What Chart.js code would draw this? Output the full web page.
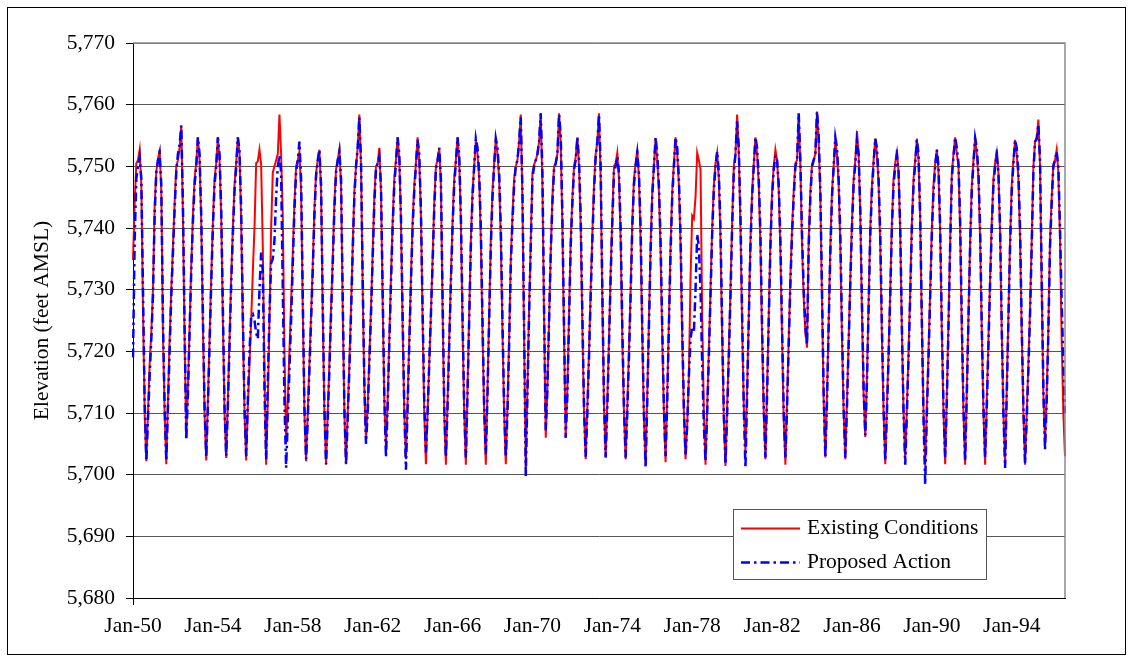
<!DOCTYPE html>
<html>
<head>
<meta charset="utf-8">
<script src="https://cdn.jsdelivr.net/npm/chart.js@4.4.1/dist/chart.umd.min.js"></script>
<style>
  html, body { margin: 0; padding: 0; background: #ffffff; }
  #wrap { width: 1133px; height: 662px; position: relative; }
  canvas { display: block; }
</style>
</head>
<body>
<div id="wrap"><canvas id="chart" width="1133" height="662"></canvas></div>
<script>
// Monthly reservoir elevations, January 1950 through September 1996 (feet AMSL)
const startYear = 1950;
const monthNames = ['Jan','Feb','Mar','Apr','May','Jun','Jul','Aug','Sep','Oct','Nov','Dec'];
const labelEvery = 48;           // one axis label every four years
const yMin = 5680, yMax = 5770, yStep = 10;
const seriesNames = ['Existing Conditions', 'Proposed Action'];

// Existing Conditions, one row per calendar year (Jan..Dec)
const existingElev = [
  5734.8,5744.0,5750.5,5751.0,5752.7,5747.0,5727.0,5710.0,5702.2,5710.0,5718.0,5723.0, // 1950
  5730.0,5743.5,5749.2,5751.0,5752.7,5746.0,5723.0,5710.0,5701.7,5712.0,5722.0,5730.0, // 1951
  5737.0,5744.0,5750.0,5751.0,5753.0,5756.6,5742.0,5722.0,5706.1,5714.0,5724.0,5734.0, // 1952
  5742.0,5748.0,5750.5,5754.7,5751.0,5741.0,5724.0,5710.0,5702.3,5712.0,5722.0,5732.0, // 1953
  5741.0,5748.0,5750.5,5754.7,5751.0,5742.0,5725.0,5710.0,5702.7,5712.0,5722.0,5732.0, // 1954
  5740.0,5747.0,5750.5,5754.7,5752.0,5741.0,5724.0,5710.0,5702.3,5711.0,5718.0,5725.0, // 1955
  5733.0,5740.0,5750.5,5750.8,5752.7,5750.3,5736.8,5716.0,5701.6,5712.0,5725.0,5740.0, // 1956
  5749.0,5750.0,5751.0,5752.0,5758.4,5752.0,5742.0,5720.0,5705.0,5712.0,5720.0,5728.0, // 1957
  5736.0,5744.0,5750.0,5751.0,5752.4,5746.0,5727.0,5710.0,5702.2,5710.0,5718.0,5726.0, // 1958
  5734.0,5743.0,5749.0,5751.0,5752.7,5746.0,5726.0,5710.0,5701.6,5710.0,5718.0,5727.0, // 1959
  5735.0,5744.0,5749.5,5751.0,5752.7,5747.0,5727.0,5710.0,5701.7,5710.0,5718.0,5727.0, // 1960
  5737.0,5746.0,5750.0,5753.0,5758.4,5750.0,5730.0,5714.0,5705.6,5711.0,5719.0,5727.0, // 1961
  5736.0,5745.0,5750.0,5750.5,5753.0,5746.0,5728.0,5712.0,5704.4,5712.0,5722.0,5732.0, // 1962
  5741.0,5748.0,5751.0,5754.7,5751.0,5741.0,5724.0,5710.0,5702.5,5712.0,5722.0,5732.0, // 1963
  5741.0,5747.0,5750.5,5754.7,5751.0,5742.0,5725.0,5710.0,5701.7,5710.0,5718.0,5726.0, // 1964
  5735.0,5744.0,5750.0,5751.0,5753.0,5747.0,5727.0,5710.0,5701.6,5712.0,5722.0,5732.0, // 1965
  5741.0,5748.0,5751.0,5754.7,5751.0,5741.0,5724.0,5710.0,5701.6,5714.0,5726.0,5738.0, // 1966
  5746.0,5750.0,5754.3,5752.0,5748.0,5738.0,5723.0,5710.0,5701.6,5714.0,5726.0,5738.0, // 1967
  5746.0,5750.5,5754.5,5752.0,5748.0,5738.0,5723.0,5710.0,5701.7,5711.0,5722.0,5735.0, // 1968
  5742.0,5748.0,5750.0,5751.0,5754.0,5758.4,5744.0,5722.0,5701.2,5714.0,5727.0,5738.0, // 1969
  5749.0,5750.3,5751.0,5752.0,5754.0,5758.6,5747.0,5725.0,5706.0,5714.0,5725.0,5736.0, // 1970
  5745.0,5750.0,5750.5,5752.0,5758.6,5754.0,5740.0,5722.0,5706.0,5714.0,5726.0,5738.0, // 1971
  5745.0,5750.0,5751.5,5754.7,5750.0,5740.0,5724.0,5710.0,5702.5,5711.0,5720.0,5730.0, // 1972
  5739.0,5747.0,5752.0,5754.0,5758.6,5748.0,5728.0,5711.0,5702.8,5712.0,5722.0,5733.0, // 1973
  5742.0,5750.0,5750.5,5752.2,5748.0,5738.0,5722.0,5710.0,5702.5,5711.0,5720.0,5730.0, // 1974
  5741.0,5748.0,5750.5,5752.7,5748.0,5738.0,5722.0,5709.0,5701.7,5713.0,5725.0,5737.0, // 1975
  5746.0,5750.0,5754.6,5751.0,5746.0,5736.0,5722.0,5710.0,5702.0,5713.0,5725.0,5737.0, // 1976
  5746.0,5750.5,5754.7,5752.0,5747.0,5737.0,5722.0,5710.0,5702.5,5708.0,5716.0,5732.0, // 1977
  5742.0,5741.5,5745.0,5752.2,5751.0,5749.5,5726.0,5710.0,5701.6,5711.0,5720.0,5730.0, // 1978
  5740.0,5747.0,5750.5,5752.2,5748.0,5738.0,5722.0,5709.0,5701.4,5711.0,5720.0,5730.0, // 1979
  5741.0,5750.0,5752.0,5758.4,5752.0,5740.0,5724.0,5711.0,5703.6,5714.0,5726.0,5738.0, // 1980
  5746.0,5750.5,5754.7,5752.0,5747.0,5737.0,5722.0,5710.0,5702.5,5714.0,5726.0,5738.0, // 1981
  5746.0,5750.0,5752.7,5751.0,5746.0,5736.0,5722.0,5709.0,5701.6,5712.0,5722.0,5732.0, // 1982
  5740.0,5746.0,5750.5,5751.0,5758.6,5750.0,5737.0,5728.6,5723.0,5720.6,5738.0,5746.0, // 1983
  5750.3,5751.0,5752.0,5758.9,5754.0,5745.0,5728.0,5712.0,5702.8,5713.0,5725.0,5737.0, // 1984
  5746.0,5750.0,5754.0,5752.0,5747.0,5737.0,5722.0,5710.0,5702.5,5712.0,5722.0,5732.0, // 1985
  5741.0,5748.0,5751.0,5755.7,5752.0,5742.0,5726.0,5713.0,5706.1,5716.0,5728.0,5740.0, // 1986
  5747.0,5751.0,5754.5,5752.0,5747.0,5737.0,5722.0,5710.0,5701.7,5711.0,5720.0,5730.0, // 1987
  5741.0,5748.0,5750.5,5752.7,5749.0,5739.0,5723.0,5710.0,5702.5,5711.0,5720.0,5730.0, // 1988
  5741.0,5748.0,5751.0,5754.5,5751.0,5741.0,5724.0,5710.0,5701.4,5711.0,5720.0,5730.0, // 1989
  5740.0,5747.0,5750.5,5752.7,5749.0,5739.0,5723.0,5710.0,5701.7,5713.0,5725.0,5738.0, // 1990
  5749.0,5752.0,5754.7,5752.0,5750.0,5739.5,5723.0,5710.0,5701.6,5714.0,5726.0,5738.0, // 1991
  5747.0,5751.0,5754.6,5752.0,5748.0,5738.0,5723.0,5710.0,5701.6,5712.0,5722.0,5732.0, // 1992
  5741.0,5748.0,5750.5,5752.7,5749.0,5739.0,5723.0,5710.0,5701.7,5714.0,5726.0,5738.0, // 1993
  5747.0,5751.0,5754.3,5752.0,5748.0,5738.0,5723.0,5710.0,5701.6,5710.0,5718.0,5727.0, // 1994
  5738.0,5750.0,5754.0,5754.5,5757.6,5750.0,5730.0,5713.0,5705.0,5713.0,5724.0,5738.0, // 1995
  5745.0,5750.3,5751.0,5752.7,5749.0,5738.0,5722.0,5710.0,5703.0                         // 1996
];

// Proposed Action, same months
const proposedElev = [
  5719.0,5738.0,5748.0,5750.0,5751.5,5748.0,5730.0,5712.0,5702.2,5709.0,5716.0,5722.0, // 1950
  5729.0,5742.0,5749.0,5751.0,5752.2,5747.0,5725.0,5711.0,5702.2,5711.0,5720.0,5729.0, // 1951
  5736.0,5743.0,5749.0,5752.0,5753.5,5756.6,5744.0,5724.0,5705.6,5713.0,5723.0,5733.0, // 1952
  5741.0,5747.0,5750.0,5754.7,5752.0,5742.0,5726.0,5711.0,5702.8,5711.0,5721.0,5731.0, // 1953
  5740.0,5747.0,5750.0,5754.7,5752.0,5743.0,5727.0,5711.0,5703.0,5711.0,5721.0,5731.0, // 1954
  5739.0,5746.0,5750.0,5754.7,5752.5,5743.0,5726.0,5711.0,5703.0,5712.0,5720.0,5725.6, // 1955
  5726.0,5725.0,5723.0,5722.0,5730.0,5736.0,5733.0,5714.0,5702.5,5715.0,5726.0,5734.3, // 1956
  5735.0,5738.0,5745.0,5750.0,5751.8,5749.0,5730.0,5712.0,5701.1,5709.0,5717.0,5725.0, // 1957
  5734.0,5743.0,5749.0,5751.0,5754.0,5748.0,5729.0,5711.0,5702.5,5709.0,5717.0,5725.0, // 1958
  5733.0,5742.0,5748.5,5751.0,5752.7,5747.0,5728.0,5711.0,5701.7,5709.0,5717.0,5726.0, // 1959
  5734.0,5743.0,5749.0,5751.0,5752.4,5748.0,5729.0,5711.0,5701.7,5709.0,5717.0,5726.0, // 1960
  5736.0,5745.0,5750.0,5753.0,5758.0,5751.0,5732.0,5715.0,5705.0,5710.0,5718.0,5726.0, // 1961
  5735.0,5744.0,5749.5,5750.5,5751.6,5747.0,5730.0,5713.0,5702.8,5711.0,5721.0,5731.0, // 1962
  5740.0,5747.0,5750.5,5754.7,5752.0,5742.0,5726.0,5711.0,5700.8,5711.0,5721.0,5731.0, // 1963
  5740.0,5746.0,5750.0,5754.3,5752.0,5743.0,5727.0,5712.0,5703.6,5710.0,5718.0,5726.0, // 1964
  5734.0,5743.0,5749.5,5751.0,5753.0,5748.0,5729.0,5711.0,5702.8,5711.0,5721.0,5731.0, // 1965
  5740.0,5747.0,5750.5,5754.7,5752.0,5742.0,5726.0,5711.0,5702.8,5713.0,5725.0,5737.0, // 1966
  5745.0,5750.0,5754.5,5753.0,5749.0,5740.0,5725.0,5711.0,5703.3,5713.0,5725.0,5737.0, // 1967
  5745.0,5750.0,5754.5,5753.0,5749.0,5740.0,5725.0,5711.0,5702.8,5710.0,5721.0,5734.0, // 1968
  5741.0,5747.0,5750.0,5751.0,5754.0,5758.0,5746.0,5724.0,5699.7,5713.0,5726.0,5737.0, // 1969
  5748.0,5750.0,5751.0,5752.0,5754.0,5758.6,5749.0,5727.0,5707.2,5714.0,5725.0,5736.0, // 1970
  5744.0,5749.5,5750.5,5752.0,5758.4,5755.0,5742.0,5724.0,5706.0,5713.0,5725.0,5737.0, // 1971
  5744.0,5749.5,5751.0,5754.7,5751.0,5742.0,5726.0,5711.0,5702.9,5710.0,5719.0,5729.0, // 1972
  5738.0,5746.0,5751.5,5754.0,5758.4,5750.0,5730.0,5712.0,5702.8,5711.0,5721.0,5732.0, // 1973
  5741.0,5749.0,5750.0,5751.6,5749.0,5740.0,5724.0,5711.0,5702.8,5710.0,5719.0,5729.0, // 1974
  5740.0,5747.0,5750.0,5752.2,5749.0,5740.0,5724.0,5710.0,5701.1,5712.0,5724.0,5736.0, // 1975
  5745.0,5750.0,5754.7,5752.0,5747.0,5738.0,5724.0,5711.0,5703.0,5712.0,5724.0,5736.0, // 1976
  5745.0,5750.0,5754.7,5753.0,5748.0,5739.0,5724.0,5711.0,5703.0,5708.0,5716.0,5722.0, // 1977
  5724.0,5723.0,5730.0,5739.0,5737.0,5730.0,5718.0,5708.0,5702.2,5710.0,5719.0,5729.0, // 1978
  5739.0,5746.0,5750.0,5752.4,5749.0,5740.0,5724.0,5710.0,5701.7,5710.0,5719.0,5729.0, // 1979
  5740.0,5749.0,5752.0,5757.3,5753.0,5742.0,5726.0,5711.0,5701.1,5713.0,5725.0,5737.0, // 1980
  5745.0,5750.0,5754.7,5753.0,5748.0,5739.0,5724.0,5711.0,5702.8,5713.0,5725.0,5737.0, // 1981
  5745.0,5749.5,5751.8,5751.0,5747.0,5738.0,5724.0,5710.0,5702.8,5711.0,5721.0,5731.0, // 1982
  5739.0,5745.0,5750.0,5751.0,5758.6,5751.0,5739.0,5730.0,5724.0,5721.1,5737.0,5745.0, // 1983
  5750.0,5751.0,5752.0,5758.9,5755.0,5746.0,5730.0,5713.0,5702.8,5712.0,5724.0,5736.0, // 1984
  5745.0,5750.0,5754.7,5753.0,5748.0,5739.0,5724.0,5711.0,5702.8,5711.0,5721.0,5731.0, // 1985
  5740.0,5747.0,5750.5,5754.1,5752.0,5743.0,5728.0,5714.0,5706.4,5715.0,5727.0,5739.0, // 1986
  5746.0,5750.5,5754.5,5753.0,5748.0,5739.0,5724.0,5711.0,5702.2,5710.0,5719.0,5729.0, // 1987
  5740.0,5747.0,5750.0,5751.8,5749.0,5740.0,5724.0,5710.0,5701.6,5710.0,5719.0,5729.0, // 1988
  5740.0,5747.0,5750.5,5754.3,5752.0,5742.0,5725.0,5709.0,5698.4,5710.0,5719.0,5729.0, // 1989
  5739.0,5746.0,5750.0,5752.7,5750.0,5740.0,5724.0,5711.0,5702.8,5712.0,5724.0,5737.0, // 1990
  5748.0,5751.5,5754.7,5753.0,5750.5,5741.0,5725.0,5711.0,5702.2,5713.0,5725.0,5737.0, // 1991
  5746.0,5750.5,5754.6,5753.0,5749.0,5740.0,5724.0,5711.0,5702.8,5711.0,5721.0,5731.0, // 1992
  5740.0,5747.0,5750.0,5751.8,5749.0,5740.0,5724.0,5710.0,5701.1,5713.0,5725.0,5737.0, // 1993
  5746.0,5750.5,5754.3,5753.0,5749.0,5740.0,5724.0,5711.0,5701.8,5709.0,5717.0,5726.0, // 1994
  5737.0,5749.0,5754.0,5754.5,5756.8,5751.0,5732.0,5714.0,5704.0,5712.0,5723.0,5737.0, // 1995
  5744.0,5750.0,5751.0,5752.4,5750.0,5740.0,5728.0,5718.0,5710.0                         // 1996
];

// Month labels such as "Jan-50"
const monthLabels = existingElev.map((_, i) => {
  const yr = (startYear + Math.floor(i / 12)) % 100;
  return monthNames[i % 12] + '-' + String(yr).padStart(2, '0');
});

const serif = '"Liberation Serif", "Times New Roman", Times, serif';
const fontSize = 21.5;

// Plot-area frame (top and right edges) and the outer picture border
const framePlugin = {
  id: 'frames',
  beforeDraw(chart) {
    const ctx = chart.ctx;
    ctx.save();
    ctx.fillStyle = '#ffffff';
    ctx.fillRect(0, 0, chart.width, chart.height);
    ctx.strokeStyle = '#000000';
    ctx.lineWidth = 1;
    ctx.strokeRect(7.5, 7.5, chart.width - 15, chart.height - 15);
    ctx.restore();
  },
  afterDatasetsDraw(chart) {
    const { left, right, top, bottom } = chart.chartArea;
    const ctx = chart.ctx;
    ctx.save();
    ctx.strokeStyle = '#8c8c8c';
    ctx.lineWidth = 1.5;
    ctx.beginPath();
    ctx.moveTo(left, top);
    ctx.lineTo(right, top);
    ctx.lineTo(right, bottom);
    ctx.stroke();
    ctx.restore();
  }
};

// Boxed legend sitting inside the lower right of the plot
const boxLegendPlugin = {
  id: 'boxLegend',
  afterDraw(chart) {
    const ctx = chart.ctx;
    const bx = 733, by = 509, bw = 254, bh = 71;
    ctx.save();
    ctx.fillStyle = '#ffffff';
    ctx.fillRect(bx, by, bw, bh);
    ctx.strokeStyle = '#555555';
    ctx.lineWidth = 1;
    ctx.strokeRect(bx + 0.5, by + 0.5, bw - 1, bh - 1);
    ctx.font = fontSize + 'px ' + serif;
    ctx.textBaseline = 'middle';
    ctx.textAlign = 'left';
    ctx.fillStyle = '#000000';
    chart.data.datasets.forEach((ds, i) => {
      const cy = by + 19.5 + i * 34;
      ctx.beginPath();
      ctx.strokeStyle = ds.borderColor;
      ctx.lineWidth = ds.borderWidth;
      ctx.setLineDash(ds.borderDash || []);
      ctx.moveTo(741, cy);
      ctx.lineTo(800, cy);
      ctx.stroke();
      ctx.setLineDash([]);
      ctx.fillText(ds.label, 807, cy);
    });
    ctx.restore();
  }
};

new Chart(document.getElementById('chart'), {
  type: 'line',
  data: {
    labels: monthLabels,
    datasets: [
      {
        label: seriesNames[0],
        data: existingElev,
        borderColor: '#ff0000',
        borderWidth: 2,
        pointRadius: 0,
        tension: 0,
        order: 1
      },
      {
        label: seriesNames[1],
        data: proposedElev,
        borderColor: '#0000ff',
        borderWidth: 2.5,
        borderDash: [9, 4, 2.5, 4],
        pointRadius: 0,
        tension: 0,
        order: 0
      }
    ]
  },
  options: {
    responsive: false,
    animation: false,
    events: [],
    layout: { padding: { left: 0, top: 43, right: 68, bottom: 0 } },
    plugins: {
      legend: { display: false },
      tooltip: { enabled: false }
    },
    scales: {
      x: {
        type: 'category',
        offset: false,
        grid: {
          drawOnChartArea: false,
          drawTicks: true,
          tickLength: 7,
          color: (c) => (c.index % labelEvery === 0 ? '#000000' : 'rgba(0,0,0,0)')
        },
        border: { display: true, color: '#000000', width: 1 },
        ticks: {
          autoSkip: false,
          maxRotation: 0,
          minRotation: 0,
          padding: 8,
          color: '#000000',
          font: { family: serif, size: fontSize },
          callback: (v, i) => (i % labelEvery === 0 ? monthLabels[i] : null)
        },
        afterFit: (s) => { s.height = 64; }
      },
      y: {
        min: yMin,
        max: yMax,
        grid: { color: '#555555', lineWidth: 1, tickLength: 7, tickColor: '#000000' },
        border: { display: true, color: '#000000', width: 1 },
        ticks: {
          stepSize: yStep,
          padding: 11,
          color: '#000000',
          font: { family: serif, size: fontSize },
          callback: (v) => Number(v).toLocaleString('en-US')
        },
        title: {
          display: true,
          text: 'Elevation (feet AMSL)',
          color: '#000000',
          font: { family: serif, size: fontSize },
          padding: { top: 29, bottom: 0 }
        },
        afterFit: (s) => { s.width = 133; }
      }
    }
  },
  plugins: [framePlugin, boxLegendPlugin]
});
</script>
</body>
</html>
